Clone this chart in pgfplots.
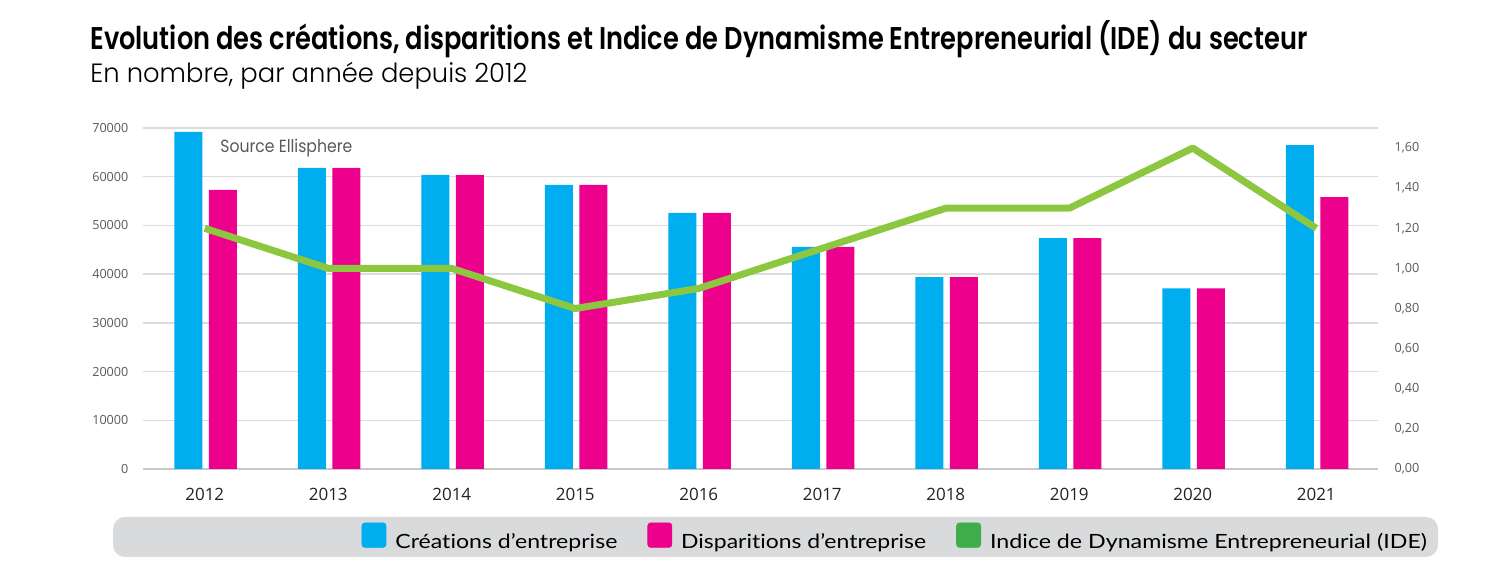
\documentclass[border=0pt]{standalone}
\usepackage{fontspec}
\setmainfont{Open Sans}
\newfontfamily\titlefont[BoldFont={Poppins SemiBold}]{Poppins}
\newfontfamily\subfont{Poppins Light}
\newfontfamily\legfont[Ligatures={NoCommon,NoRare}]{Lato}
\usepackage{graphicx}
\usepackage{pgfplots}
\pgfplotsset{compat=1.18}
\definecolor{cyanbar}{HTML}{00AEEF}
\definecolor{magbar}{HTML}{EC008C}
\definecolor{limeline}{HTML}{8DC63F}
\definecolor{leggreen}{HTML}{3DAE4A}
\definecolor{gridgray}{HTML}{DCDCDC}
\definecolor{axisgray}{HTML}{C8C8C8}
\definecolor{legbg}{HTML}{D9DADB}
\definecolor{tickgray}{HTML}{595959}
\definecolor{yeartext}{HTML}{222222}

\begin{document}
\begin{tikzpicture}[x=1pt,y=1pt]
\path[use as bounding box] (0,0) rectangle (750,288);
\fill[legbg, rounded corners=6pt] (56.5,9.5) rectangle (719,29.5);
\node[anchor=base west, inner sep=0pt] at (45,263) {\resizebox{608.5pt}{\height}{\titlefont\fontsize{15.7}{18}\selectfont\bfseries Evolution des créations, disparitions et Indice de Dynamisme Entrepreneurial (IDE) du secteur}};
\node[anchor=base west, inner sep=0pt] at (45,246.5) {\resizebox{218.5pt}{\height}{\subfont\fontsize{13.2}{15}\selectfont En nombre, par année depuis 2012}};

\begin{axis}[
  at={(71.5pt,53.5pt)}, anchor=south west,
  scale only axis, width=617.5pt, height=170.5pt,
  xmin=-0.5, xmax=9.5, ymin=0, ymax=70000,
  xtick={0,...,9},
  xticklabels={2012,2013,2014,2015,2016,2017,2018,2019,2020,2021},
  ytick={0,10000,20000,30000,40000,50000,60000,70000},
  ymajorgrids, grid style={draw=gridgray, line width=0.7pt},
  axis x line*=bottom, axis y line*=left,
  x axis line style={draw=axisgray, line width=1.2pt, -},
  y axis line style={draw=none},
  major tick length=0pt, tick style={draw=none},
  scaled y ticks=false,
  /pgf/number format/1000 sep={},
  /pgf/number format/assume math mode=true,
  yticklabel style={font=\fontsize{6.3}{7}\selectfont, text=tickgray, xshift=-3.8pt},
  xticklabel style={font=\fontsize{8.5}{10}\selectfont, text=yeartext, yshift=-6pt},
]
\addplot[ybar, bar width=14pt, bar shift=-8.2pt, fill=cyanbar, draw=none] coordinates {
 (0,69200) (1,61800) (2,60400) (3,58300) (4,52600) (5,45600) (6,39400) (7,47400) (8,37100) (9,66500)};
\addplot[ybar, bar width=14pt, bar shift=9.1pt, fill=magbar, draw=none] coordinates {
 (0,57300) (1,61800) (2,60400) (3,58300) (4,52600) (5,45600) (6,39400) (7,47400) (8,37100) (9,55800)};
\node[anchor=west, inner sep=0pt, text=tickgray] at (rel axis cs:0.0623,0.941) {\resizebox{66pt}{\height}{\titlefont\fontsize{8.8}{10}\selectfont Source Ellisphere}};
\end{axis}

\begin{axis}[
  at={(71.5pt,53.5pt)}, anchor=south west,
  scale only axis, width=617.5pt, height=170.5pt,
  xmin=-0.5, xmax=9.5, ymin=0, ymax=1.7,
  axis x line=none, axis y line*=right,
  y axis line style={draw=none},
  major tick length=0pt, tick style={draw=none},
  ytick={0,0.2,0.4,0.6,0.8,1,1.2,1.4,1.6},
  /pgf/number format/assume math mode=true,
  yticklabel style={font=\fontsize{6.3}{7}\selectfont, text=tickgray, xshift=4.8pt,
    /pgf/number format/.cd, fixed, fixed zerofill, precision=2, use comma},
  legend columns=3,
  legend style={at={(1.0397,-0.1994)}, anchor=east, draw=none, fill=none,
    inner sep=0pt, outer sep=0pt, font=\legfont\fontsize{9.8}{11}\selectfont,
    nodes={inner sep=0pt}, column sep=4.5pt,
    /tikz/every even column/.append style={column sep=15pt}},
  legend cell align=left,
]
\addlegendimage{legend image code/.code={\fill[cyanbar, rounded corners=1.5pt] (0pt,-2.5pt) rectangle (12pt,9.7pt);}}
\addlegendentry{\resizebox{111pt}{\height}{Créations d’entreprise}}
\addlegendimage{legend image code/.code={\fill[magbar, rounded corners=1.5pt] (0pt,-2.5pt) rectangle (12pt,9.7pt);}}
\addlegendentry{\resizebox{122.5pt}{\height}{Disparitions d’entreprise}}
\addlegendimage{legend image code/.code={\fill[leggreen, rounded corners=1.5pt] (0pt,-2.5pt) rectangle (12pt,9.7pt);}}
\addlegendentry{\resizebox{218.5pt}{\height}{Indice de Dynamisme Entrepreneurial (IDE)}}
\addplot[limeline, line width=3.5pt, line join=round, forget plot] coordinates {
 (0,1.2) (1,1.0) (2,1.0) (3,0.8) (4,0.9) (5,1.1) (6,1.3) (7,1.3) (8,1.6) (9,1.2)};
\end{axis}
\end{tikzpicture}
\end{document}
